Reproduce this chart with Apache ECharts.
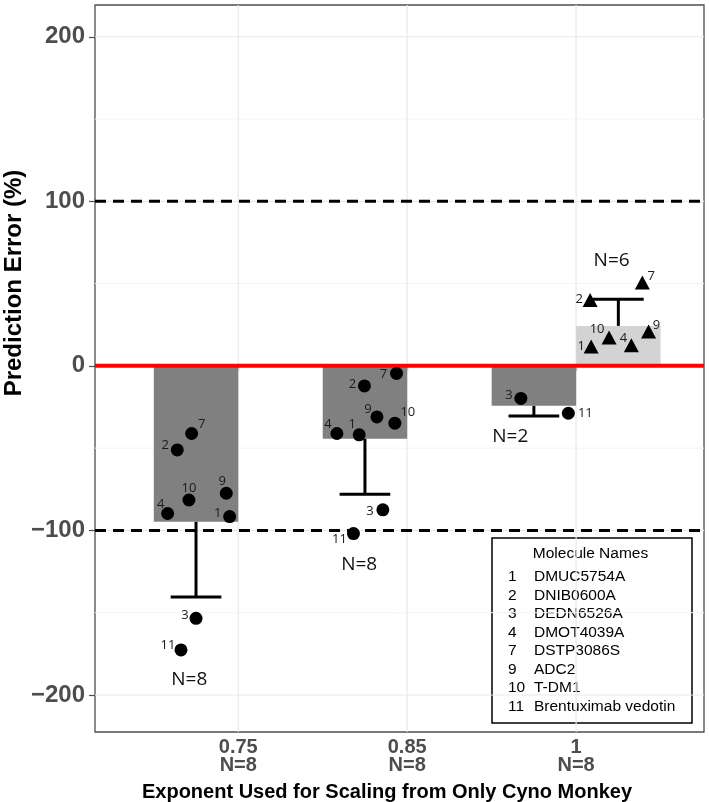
<!DOCTYPE html>
<html>
<head>
<meta charset="utf-8">
<script src="https://cdn.jsdelivr.net/npm/echarts@6/dist/echarts.min.js"></script>
<style>html,body{margin:0;padding:0;background:#fff;}#chart{width:709px;height:802px;}</style>
</head>
<body>
<div id="chart"></div>
<script>
// ---- data ----
const categories = ['0.75', '0.85', '1'];
const categoryN = [8, 8, 8];
const categoryPos = [1, 2, 3];
const yTicks = [-200, -100, 0, 100, 200];
const yMinorTicks = [-150, -50, 50, 150];
const refDashed = [-100, 100];
const refZero = [0];

const moleculeIds = [1, 2, 3, 4, 7, 9, 10, 11];
const moleculeNames = ['DMUC5754A', 'DNIB0600A', 'DEDN6526A', 'DMOT4039A', 'DSTP3086S', 'ADC2', 'T-DM1', 'Brentuximab vedotin'];

// bars (dark = under-prediction group, light = over-prediction group)
const darkBarX = [0.75, 1.75, 2.75];
const darkBarY = [-94.8, -44.3, -24.3];
const darkErrEnd = [-140.4, -78.0, -30.5];
const lightBarX = [3.25];
const lightBarY = [24.3];
const lightErrEnd = [40.5];

// points (circles)
const circleIds = [7, 2, 10, 9, 4, 1, 3, 11,   7, 2, 9, 10, 4, 1, 3, 11,   3, 11];
const circleX = [0.724, 0.639, 0.708, 0.929, 0.582, 0.949, 0.750, 0.661,
                 1.937, 1.747, 1.821, 1.927, 1.584, 1.716, 1.856, 1.682,
                 2.673, 2.954];
const circleY = [-41.1, -51.1, -81.5, -77.4, -89.7, -91.6, -153.4, -172.6,
                 -4.6, -12.2, -31.0, -34.8, -41.1, -41.9, -87.5, -101.9,
                 -19.8, -28.8];
// points (triangles)
const triIds = [7, 2, 10, 9, 4, 1];
const triX = [3.392, 3.083, 3.195, 3.429, 3.327, 3.089];
const triY = [50.7, 40.1, 17.3, 20.9, 12.6, 11.8];

// N annotations
const nText = ['N=8', 'N=8', 'N=2', 'N=6'];
const nX = [0.71, 1.716, 2.61, 3.21];
const nY = [-190.6, -121, -43, 63.8];

// ---- label placement (layout, not data) ----
const circleLabelOffsets = [[10,-9],[-12,-5],[0,-12],[-4,-12],[-7,-9],[-12,-3],[-11,-3],[-13,-5],
                            [-13,1],[-12,-2],[-9,-8],[13,-11],[-9,-9],[-7,-11],[-13,1],[-14,6],
                            [-12,-3],[17,0]];
const triLabelOffsets = [[9,-6],[-11,-1],[-12,-8],[8,-6],[-8,-7],[-10,0]];

const chart = echarts.init(document.getElementById('chart'), null, {renderer: 'canvas'});
const FONT = 'Liberation Sans, Arial, Helvetica, sans-serif';
const minusFmt = v => String(v).replace('-', '\u2212');

function hLineSeries(vals, z, style) {
  return {
    type: 'custom', z: z, silent: true, clip: true,
    data: vals.map(v => [0, v]),
    renderItem: (params, api) => {
      const cs = params.coordSys;
      const y = api.coord([1, api.value(1)])[1];
      return {type: 'line', shape: {x1: cs.x, y1: y, x2: cs.x + cs.width, y2: y}, style: style};
    }
  };
}
function vLineSeries(vals, z, style) {
  return {
    type: 'custom', z: z, silent: true, clip: true,
    data: vals.map(v => [v, 0]),
    renderItem: (params, api) => {
      const cs = params.coordSys;
      const x = api.coord([api.value(0), 0])[0];
      return {type: 'line', shape: {x1: x, y1: cs.y, x2: x, y2: cs.y + cs.height}, style: style};
    }
  };
}
function barSeries(xs, ys, color) {
  return {
    type: 'custom', z: 3, silent: true,
    data: xs.map((x, i) => [x, ys[i]]),
    renderItem: (params, api) => {
      const x = api.value(0), y = api.value(1);
      const p0 = api.coord([x - 0.25, 0]);
      const p1 = api.coord([x + 0.25, y]);
      return {type: 'rect', shape: {x: p0[0], y: Math.min(p0[1], p1[1]), width: p1[0] - p0[0], height: Math.abs(p1[1] - p0[1])},
              style: {fill: color}};
    }
  };
}
function errSeries(xs, ys, ends) {
  return {
    type: 'custom', z: 5, silent: true,
    data: xs.map((x, i) => [x, ys[i], ends[i]]),
    renderItem: (params, api) => {
      const x = api.value(0);
      const a = api.coord([x, api.value(1)]);
      const b = api.coord([x, api.value(2)]);
      const cl = api.coord([x - 0.15, api.value(2)]);
      const cr = api.coord([x + 0.15, api.value(2)]);
      const st = {stroke: '#000', lineWidth: 3};
      return {type: 'group', children: [
        {type: 'line', shape: {x1: a[0], y1: a[1], x2: b[0], y2: b[1]}, style: st},
        {type: 'line', shape: {x1: cl[0], y1: cl[1], x2: cr[0], y2: cr[1]}, style: st}
      ]};
    }
  };
}
const ptLabel = {show: true, position: 'inside', fontSize: 13, color: '#1a1a1a', fontFamily: 'Open Sans, sans-serif',
                 formatter: p => String(p.value[2])};

const legendChildren = [];
legendChildren.push({type: 'rect', shape: {x: 492, y: 538, width: 200, height: 185}, style: {fill: '#fff', stroke: '#000', lineWidth: 1.5}});
legendChildren.push({type: 'text', x: 590.5, y: 554, style: {text: 'Molecule Names', font: '15.5px ' + FONT, fill: '#000', align: 'center', verticalAlign: 'middle'}});
moleculeIds.forEach((id, i) => {
  const yy = 577 + i * 18.5;
  legendChildren.push({type: 'text', x: 508, y: yy, style: {text: String(id), font: '15.5px ' + FONT, fill: '#000', align: 'left', verticalAlign: 'middle'}});
  legendChildren.push({type: 'text', x: 534, y: yy, style: {text: moleculeNames[i], font: '15.5px ' + FONT, fill: '#000', align: 'left', verticalAlign: 'middle'}});
});

const option = {
  animation: false,
  backgroundColor: '#fff',
  grid: {left: 95, right: 5, top: 5, bottom: 70, show: true, borderColor: '#4d4d4d', borderWidth: 1.3, backgroundColor: '#fff'},
  xAxis: {
    type: 'value', min: 0.152, max: 3.757,
    axisLine: {show: false}, splitLine: {show: false},
    axisTick: {show: true, customValues: categoryPos, length: 5, lineStyle: {color: '#4d4d4d', width: 1.2}},
    axisLabel: {customValues: categoryPos, margin: 6, fontSize: 20, fontWeight: 'bold', color: '#4d4d4d', lineHeight: 18, fontFamily: FONT,
      formatter: v => { const i = categoryPos.indexOf(Math.round(v)); return categories[i] + '\nN=' + categoryN[i]; }}
  },
  yAxis: {
    type: 'value', min: -222.5, max: 219.3,
    axisLine: {show: false}, splitLine: {show: false},
    axisTick: {show: true, customValues: yTicks, length: 6, lineStyle: {color: '#4d4d4d', width: 1.2}},
    axisLabel: {customValues: yTicks, margin: 10, fontSize: 24, fontWeight: 'bold', color: '#4d4d4d', fontFamily: FONT, formatter: minusFmt}
  },
  graphic: [
    {type: 'text', x: 14, y: 283, rotation: Math.PI / 2, style: {text: 'Prediction Error (%)', font: 'bold 24px ' + FONT, fill: '#000', align: 'center', verticalAlign: 'middle'}},
    {type: 'text', x: 387, y: 792, style: {text: 'Exponent Used for Scaling from Only Cyno Monkey', font: 'bold 20px ' + FONT, fill: '#000', align: 'center', verticalAlign: 'middle'}},
    {type: 'group', children: legendChildren, z: 100}
  ],
  series: [
    hLineSeries(yMinorTicks, 1, {stroke: '#f4f4f4', lineWidth: 1}),
    hLineSeries(yTicks, 1, {stroke: '#e9e9e9', lineWidth: 1.2}),
    vLineSeries(categoryPos, 1, {stroke: '#e9e9e9', lineWidth: 1.2}),
    barSeries(darkBarX, darkBarY, '#808080'),
    barSeries(lightBarX, lightBarY, '#d3d3d3'),
    hLineSeries(refDashed, 4, {stroke: '#000', lineWidth: 3, lineDash: [11, 7]}),
    hLineSeries(refZero, 4, {stroke: '#ff0000', lineWidth: 4}),
    errSeries(darkBarX, darkBarY, darkErrEnd),
    errSeries(lightBarX, lightBarY, lightErrEnd),
    {type: 'scatter', z: 6, symbol: 'circle', symbolSize: 13, itemStyle: {color: '#000', opacity: 1},
     data: circleX.map((x, i) => ({value: [x, circleY[i], circleIds[i]], label: {offset: circleLabelOffsets[i]}})),
     label: ptLabel},
    {type: 'scatter', z: 6, symbol: 'triangle', symbolSize: [15, 14], itemStyle: {color: '#000', opacity: 1},
     data: triX.map((x, i) => ({value: [x, triY[i], triIds[i]], label: {offset: triLabelOffsets[i]}})),
     label: ptLabel},
    {type: 'scatter', z: 6, symbolSize: 0, silent: true, itemStyle: {color: '#000', opacity: 1},
     data: nX.map((x, i) => [x, nY[i], nText[i]]),
     label: {show: true, position: 'inside', fontSize: 19, color: '#111', opacity: 1, fontFamily: 'Open Sans, sans-serif', formatter: p => p.value[2]}}
  ]
};
chart.setOption(option);
</script>
</body>
</html>
